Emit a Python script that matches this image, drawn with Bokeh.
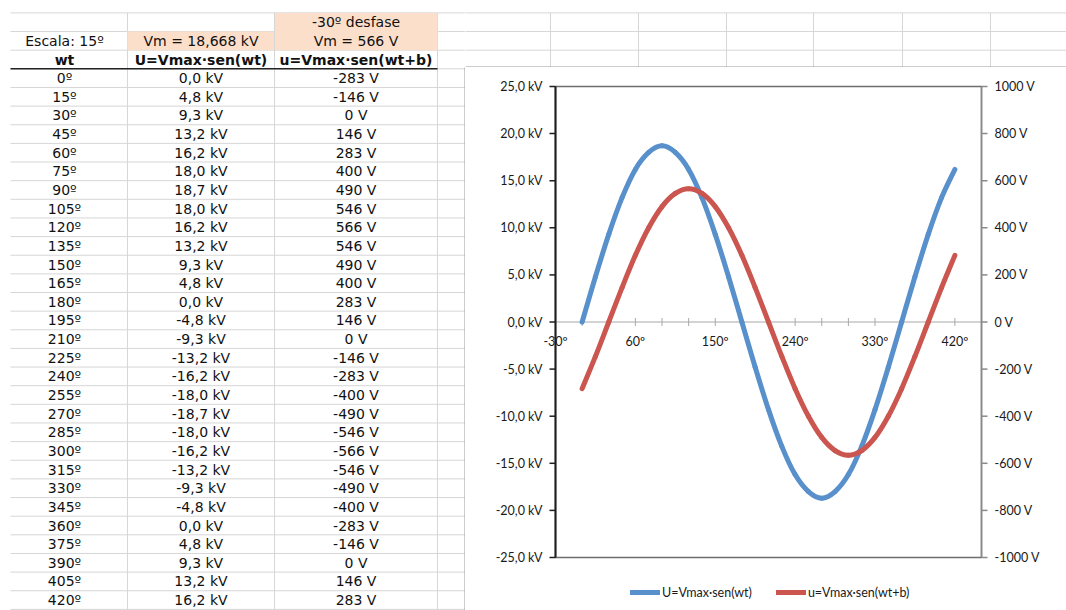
import numpy as np
from bokeh.plotting import figure
from bokeh.models import Range1d, Legend, LegendItem
from bokeh.layouts import row, column
from bokeh.core.properties import value
from bokeh.embed import file_html
from bokeh.resources import INLINE

# ---- data -------------------------------------------------------------
angles_deg = [0, 15, 30, 45, 60, 75, 90, 105, 120, 135, 150, 165, 180, 195, 210,
              225, 240, 255, 270, 285, 300, 315, 330, 345, 360, 375, 390, 405, 420]
U_kV = [0.0, 4.8, 9.3, 13.2, 16.2, 18.0, 18.7, 18.0, 16.2, 13.2, 9.3, 4.8, 0.0,
        -4.8, -9.3, -13.2, -16.2, -18.0, -18.7, -18.0, -16.2, -13.2, -9.3, -4.8, 0.0,
        4.8, 9.3, 13.2, 16.2]
u_V = [-283, -146, 0, 146, 283, 400, 490, 546, 566, 546, 490, 400, 283,
       146, 0, -146, -283, -400, -490, -546, -566, -546, -490, -400, -283,
       -146, 0, 146, 283]

scale_label = "Escala: 15º"
vm_U_label = "Vm = 18,668 kV"
shift_label = "-30º desfase"
vm_u_label = "Vm = 566 V"
col_headers = ["wt", "U=Vmax·sen(wt)", "u=Vmax·sen(wt+b)"]
series_names = ["U=Vmax·sen(wt)", "u=Vmax·sen(wt+b)"]

kv_ticks = [-25, -20, -15, -10, -5, 0, 5, 10, 15, 20, 25]
v_ticks = [-1000, -800, -600, -400, -200, 0, 200, 400, 600, 800, 1000]
deg_major = [-30, 60, 150, 240, 330, 420]
deg_minor = [-30, 0, 30, 60, 90, 120, 150, 180, 210, 240, 270, 300, 330, 360, 390, 420, 450]

X_MIN, X_MAX = -30, 450
KV_MIN, KV_MAX = -25, 25
V_MIN, V_MAX = -1000, 1000

BLUE = "#5890CB"
RED = "#CB5650"
GRID = "#d6d6d6"
PEACH = "#FBDFCA"
TABLE_FONT = "DejaVu Sans"
CHART_FONT = "Lato"
AXIS_FONT_SIZE = "12.5px"


def deg(a):
    return f"{a}º"


def kv(v):
    return f"{v:.1f}".replace(".", ",") + " kV"


def volts(v):
    return f"{v} V"


def blank(p):
    p.xgrid.visible = False
    p.ygrid.visible = False
    return p


# ---- spreadsheet (left part) -----------------------------------------
W, H = 1066, 610
SHEET_W = 465
STRIP_H = 67
ROW_TOP = 12.4
ROW_H = 18.64
N_ROWS = 32
col_x = [10, 127, 274, 437]
col_center = [64, 200.5, 355.5]

sheet = blank(figure(width=SHEET_W, height=H, x_range=Range1d(0, SHEET_W), y_range=Range1d(H, 0),
                     x_axis_type=None, y_axis_type=None, toolbar_location=None,
                     output_backend="svg", min_border=0, outline_line_color=None))

row_lines = [ROW_TOP + ROW_H * k for k in range(N_ROWS + 1)]
sheet.segment(x0=[col_x[0]] * len(row_lines), x1=[SHEET_W] * len(row_lines),
              y0=row_lines, y1=row_lines, line_color=GRID, line_width=1)
sheet.segment(x0=col_x[1:], x1=col_x[1:], y0=[ROW_TOP] * 3, y1=[H] * 3,
              line_color=GRID, line_width=1)

# shaded header cells
sheet.quad(left=[col_x[1], col_x[2]], right=[col_x[2], col_x[3]],
           top=[row_lines[1], row_lines[0]], bottom=[row_lines[2], row_lines[2]],
           fill_color=PEACH, line_color=None)
sheet.segment(x0=[col_x[2]], x1=[col_x[2]], y0=[row_lines[0]], y1=[row_lines[2]],
              line_color=GRID, line_width=1)

# header underline
sheet.segment(x0=[col_x[0]], x1=[col_x[3]], y0=[row_lines[3]], y1=[row_lines[3]],
              line_color="#222222", line_width=1.6)

# left edge of the chart box
sheet.segment(x0=[SHEET_W - 0.5], x1=[SHEET_W - 0.5], y0=[STRIP_H], y1=[H],
              line_color="#9a9a9a", line_width=1)


def rc(k):
    return ROW_TOP + ROW_H * (k + 0.5)


sheet.text(x=[col_center[2], col_center[0], col_center[1], col_center[2]],
           y=[rc(0), rc(1), rc(1), rc(1)],
           text=[shift_label, scale_label, vm_U_label, vm_u_label],
           text_font=value(TABLE_FONT), text_font_size="14px",
           text_align="center", text_baseline="middle", text_color="#111111")
sheet.text(x=col_center, y=[rc(2)] * 3, text=col_headers,
           text_font=value(TABLE_FONT), text_font_size="14px", text_font_style="bold",
           text_align="center", text_baseline="middle", text_color="#111111")

ys = [rc(3 + i) for i in range(len(angles_deg))]
for cx, labels in zip(col_center, [[deg(a) for a in angles_deg],
                                    [kv(v) for v in U_kV],
                                    [volts(v) for v in u_V]]):
    sheet.text(x=[cx] * len(labels), y=ys, text=labels,
               text_font=value(TABLE_FONT), text_font_size="14px",
               text_align="center", text_baseline="middle", text_color="#111111")

# ---- strip of sheet above the chart ----------------------------------
CW = W - SHEET_W
strip = blank(figure(width=CW, height=STRIP_H, x_range=Range1d(SHEET_W, W),
                     y_range=Range1d(STRIP_H, 0), x_axis_type=None, y_axis_type=None,
                     toolbar_location=None, output_backend="svg", min_border=0,
                     outline_line_color=None))
strip_rows = row_lines[:3]
strip.segment(x0=[SHEET_W] * 3, x1=[W] * 3, y0=strip_rows, y1=strip_rows,
              line_color=GRID, line_width=1)
strip_cols = [550, 638, 726, 813, 902, 990]
strip.segment(x0=strip_cols, x1=strip_cols, y0=[ROW_TOP] * len(strip_cols),
              y1=[STRIP_H] * len(strip_cols), line_color=GRID, line_width=1)
strip.segment(x0=[SHEET_W], x1=[W], y0=[STRIP_H - 0.5], y1=[STRIP_H - 0.5],
              line_color="#9a9a9a", line_width=1)

# ---- chart -------------------------------------------------------------
CH = H - STRIP_H
# plot area inset inside the chart box (pixels)
PAD_L, PAD_R, PAD_T, PAD_B = 90, 85, 19, 53
px_deg = (CW - PAD_L - PAD_R) / (X_MAX - X_MIN)
px_kv = (CH - PAD_T - PAD_B) / (KV_MAX - KV_MIN)
px_v = (CH - PAD_T - PAD_B) / (V_MAX - V_MIN)

chart = blank(figure(width=CW, height=CH,
                     x_range=Range1d(X_MIN - PAD_L / px_deg, X_MAX + PAD_R / px_deg),
                     y_range=Range1d(KV_MIN - PAD_B / px_kv, KV_MAX + PAD_T / px_kv),
                     x_axis_type=None, y_axis_type=None,
                     toolbar_location=None, output_backend="svg",
                     min_border=0, outline_line_color=None))
chart.extra_y_ranges = {"volts": Range1d(V_MIN - PAD_B / px_v, V_MAX + PAD_T / px_v)}

# plot area border
chart.quad(left=[X_MIN], right=[X_MAX], bottom=[KV_MIN], top=[KV_MAX],
           fill_color=None, line_color="#6e6e6e", line_width=1.5)

# horizontal axis through zero
AX_GRAY = "#a8a8a8"
chart.segment(x0=[X_MIN], x1=[X_MAX], y0=[0], y1=[0], line_color=AX_GRAY, line_width=1)
tick_half = 4 / px_kv
chart.segment(x0=deg_minor, x1=deg_minor, y0=[-tick_half] * len(deg_minor),
              y1=[tick_half] * len(deg_minor), line_color=AX_GRAY, line_width=1)
chart.text(x=deg_major, y=[0] * len(deg_major), text=[deg(t) for t in deg_major],
           y_offset=19, text_align="center", text_baseline="middle",
           text_font=value(CHART_FONT), text_font_size=AXIS_FONT_SIZE, text_color="#1a1a1a")


def smooth_segments(xs, ys):
    """Cubic Bezier pieces (Catmull-Rom) through consecutive points."""
    x = np.asarray(xs, dtype=float)
    y = np.asarray(ys, dtype=float)
    xp = np.concatenate([[x[0]], x, [x[-1]]])
    yp = np.concatenate([[y[0]], y, [y[-1]]])
    out = dict(x0=[], y0=[], x1=[], y1=[], cx0=[], cy0=[], cx1=[], cy1=[])
    for i in range(len(x) - 1):
        p0x, p0y = xp[i], yp[i]
        p1x, p1y = xp[i + 1], yp[i + 1]
        p2x, p2y = xp[i + 2], yp[i + 2]
        p3x, p3y = xp[i + 3], yp[i + 3]
        out["x0"].append(p1x); out["y0"].append(p1y)
        out["x1"].append(p2x); out["y1"].append(p2y)
        out["cx0"].append(p1x + (p2x - p0x) / 6); out["cy0"].append(p1y + (p2y - p0y) / 6)
        out["cx1"].append(p2x - (p3x - p1x) / 6); out["cy1"].append(p2y - (p3y - p1y) / 6)
    return out


r_U = chart.bezier(**smooth_segments(angles_deg, U_kV), line_color=BLUE,
                   line_width=5, line_cap="round")
r_u = chart.bezier(**smooth_segments(angles_deg, u_V), line_color=RED,
                   line_width=5, line_cap="round", y_range_name="volts")

# kV axis (left)
TICK = 6
chart.segment(x0=[X_MIN], x1=[X_MIN], y0=[KV_MIN], y1=[KV_MAX],
              line_color="#1e1e1e", line_width=2)
chart.segment(x0=[X_MIN - TICK / px_deg] * len(kv_ticks), x1=[X_MIN] * len(kv_ticks),
              y0=kv_ticks, y1=kv_ticks, line_color="#1e1e1e", line_width=1.5)
chart.text(x=[X_MIN] * len(kv_ticks), y=kv_ticks, text=[kv(t) for t in kv_ticks],
           x_offset=-13, text_align="right", text_baseline="middle",
           text_font=value(CHART_FONT), text_font_size=AXIS_FONT_SIZE, text_color="#1a1a1a")

# V axis (right)
chart.segment(x0=[X_MAX], x1=[X_MAX], y0=[V_MIN], y1=[V_MAX],
              line_color="#8a8a8a", line_width=1.5, y_range_name="volts")
chart.segment(x0=[X_MAX] * len(v_ticks), x1=[X_MAX + TICK / px_deg] * len(v_ticks),
              y0=v_ticks, y1=v_ticks, line_color="#8a8a8a", line_width=1.5,
              y_range_name="volts")
chart.text(x=[X_MAX] * len(v_ticks), y=v_ticks, text=[volts(t) for t in v_ticks],
           x_offset=13, text_align="left", text_baseline="middle", y_range_name="volts",
           text_font=value(CHART_FONT), text_font_size=AXIS_FONT_SIZE, text_color="#1a1a1a")

legend = Legend(items=[LegendItem(label=series_names[0], renderers=[r_U]),
                       LegendItem(label=series_names[1], renderers=[r_u])],
                location=(165, 8), orientation="horizontal",
                glyph_width=30, glyph_height=20, label_standoff=2, spacing=24,
                padding=0, margin=0, border_line_color=None, background_fill_alpha=0,
                label_text_font=CHART_FONT, label_text_font_size="12.5px",
                label_text_color="#1a1a1a")
chart.add_layout(legend)

page = row(sheet, column(strip, chart, spacing=0), spacing=0)

open("out.html", "w").write(file_html(page, INLINE))
